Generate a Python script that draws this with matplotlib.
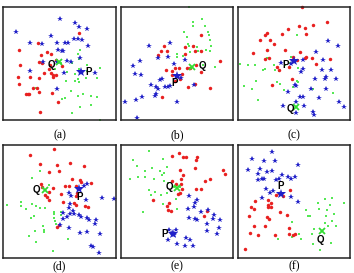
import matplotlib
matplotlib.use("Agg")
import matplotlib.pyplot as plt
import numpy as np

panel_labels = ["(a)", "(b)", "(c)", "(d)", "(e)", "(f)"]

# ---- panel (a) ----
a_blue = [(181,58),(225,70),(236,83),(262,89),(48,97),(153,109),(221,117),(234,117),(246,122),
          (90,130),(171,130),(195,130),(203,129),(265,138),(128,132),(176,150),(186,155),(190,155),
          (240,176),(131,187),(173,187),(200,185),(212,188),(92,214),(285,222),(193,222),(173,268)]
a_red = [(238,99),(116,130),(58,152),(141,157),(154,162),(123,165),(119,187),(127,190),(168,180),
         (62,196),(152,198),(133,220),(154,222),(160,228),(160,234),(170,226),(119,237),(56,234),
         (90,233),(149,210),(57,255),(100,266),(113,265),(80,284),(84,284),(88,284),(118,279),
         (157,281),(176,307),(122,337),(186,200)]
a_green = [(240,150),(235,162),(238,178),(183,190),(216,190),(260,197),(165,210),(200,218),
           (299,206),(236,208),(262,215),(225,225),(233,238),(258,236),(290,236),(198,244),
           (236,248),(225,246),(110,265),(248,284),(212,275),(234,290),(273,290),(186,298),
           (195,296),(291,292),(240,322),(272,318),(215,342),(300,362)]
a_P = (244,217); a_Q = (178,188)
a_Plab = (265,217); a_Qlab = (155,196)

# ---- panel (b) ----
b_blue = [(93,140),(155,130),(120,175),(149,172),(66,185),(44,199),(166,192),(202,182),(50,225),
          (68,228),(131,240),(126,242),(97,258),(114,263),(139,262),(150,262),(156,260),(118,270),
          (113,285),(110,290),(70,292),(52,303),(20,308),(177,308),(55,357),(227,258),(190,235)]
b_red = [(249,106),(136,140),(128,153),(146,155),(120,165),(201,143),(226,140),(230,155),(250,153),
         (200,163),(307,184),(171,205),(183,207),(144,212),(160,215),(206,206),(192,225),(186,240),
         (170,246),(215,205),(234,198),(162,228),(248,218),(210,262),(231,255),(276,266),(131,292)]
b_green = [(212,22),(224,66),(252,58),(226,78),(262,80),(271,97),(273,105),(199,96),(207,112),
           (275,120),(209,132),(214,140),(229,140),(236,141),(216,157),(241,154),(248,154),
           (263,152),(275,155),(175,162),(178,172),(196,170),(292,202),(256,197),(280,140)]
b_P = (175,230); b_Q = (221,202)
b_Plab = (168,252); b_Qlab = (252,200)

# ---- panel (c) ----
c_red = [(197,22),(275,68),(190,80),(207,84),(232,76),(157,88),(93,101),(85,106),(137,104),
         (210,104),(70,121),(102,122),(114,132),(92,150),(50,160),(146,152),(192,156),(98,174),
         (85,178),(170,172),(182,180),(208,176),(210,173),(229,176),(283,179),(123,202),
         (128,212),(160,203),(107,257),(167,240),(240,192)]
c_green = [(184,106),(93,174),(97,176),(165,172),(12,194),(36,197),(55,196),(114,198),(79,212),
           (87,208),(118,212),(147,196),(163,190),(186,206),(130,215),(122,249),(131,253),
           (60,245),(46,270),(22,260),(182,244),(186,248),(172,262),(143,272),(230,270),
           (292,282),(66,302)]
c_blue = [(278,125),(306,140),(240,156),(164,192),(200,180),(134,190),(263,180),(259,213),
          (200,210),(196,217),(272,232),(268,240),(236,238),(301,240),(176,256),(180,260),
          (225,270),(272,270),(157,277),(193,293),(200,293),(249,297),(309,308),(179,309),
          (326,323),(203,320),(140,320),(231,339),(234,347),(179,342),(285,212)]
c_P = (173,185); c_Q = (181,322)
c_Plab = (150,198); c_Qlab = (162,330)

# ---- panel (d) ----
d_red = [(164,37),(92,54),(121,82),(171,84),(210,78),(252,88),(148,105),(177,104),(217,127),
         (239,130),(274,138),(242,135),(124,141),(127,152),(161,153),(196,148),(206,148),
         (228,147),(147,165),(137,175),(182,172),(232,170),(227,178),(142,181),(148,190),
         (188,198),(221,200),(227,205),(256,208),(264,212),(178,266),(172,272)]
d_blue = [(252,147),(262,143),(208,168),(212,178),(258,190),(305,185),(343,187),(209,202),
          (208,215),(190,229),(211,232),(218,224),(236,235),(244,243),(262,245),(222,234),
          (200,243),(190,248),(289,250),(266,252),(286,262),(181,266),(206,275),(240,290),
          (262,287),(299,292),(274,328),(280,332),(296,351)]
d_green = [(122,103),(98,124),(149,144),(22,205),(65,196),(63,208),(80,217),(98,203),(110,210),
           (122,214),(136,214),(163,226),(182,226),(164,233),(184,236),(164,246),(166,254),
           (168,263),(102,240),(93,245),(130,270),(133,280),(132,286),(106,283),(87,298),
           (203,307),(108,318),(160,344)]
d_P = (237,158); d_Q = (135,160)
d_Plab = (240,180); d_Qlab = (110,160)

# ---- panel (e) ----
e_green = [(93,44),(44,70),(133,68),(57,88),(101,95),(146,91),(80,104),(124,104),(137,108),
           (130,116),(34,128),(60,120),(81,121),(106,128),(138,132),(150,140),(166,152),
           (93,159),(111,165),(128,176),(99,176),(146,170),(172,188),(134,202),(73,228),(178,218),
           (186,152)]
e_red = [(183,48),(160,57),(194,61),(204,62),(236,60),(234,70),(185,101),(232,95),(316,101),
         (322,113),(194,114),(190,128),(162,134),(277,126),(262,132),(172,143),(190,143),
         (193,157),(248,158),(233,158),(186,168),(104,190),(152,200),(146,208),(157,225),
         (150,222),(266,225),(259,238),(180,172)]
e_blue = [(213,178),(236,190),(232,200),(228,212),(211,218),(249,226),(271,222),(288,237),
          (284,248),(306,250),(212,246),(230,248),(237,250),(266,262),(302,275),(268,285),
          (296,294),(160,290),(153,282),(173,282),(166,296),(150,312),(178,322),(205,306),
          (216,312),(226,328),(200,330)]
e_P = (165,293); e_Q = (176,155)
e_Plab = (140,292); e_Qlab = (155,150)

# ---- panel (f) ----
f_blue = [(109,47),(46,66),(84,73),(118,72),(187,86),(72,96),(36,99),(94,105),(108,104),
          (66,113),(138,114),(178,120),(156,122),(166,126),(64,130),(77,127),(84,127),(120,131),
          (128,126),(112,163),(89,158),(101,169),(77,183),(164,180),(187,197)]
f_red = [(161,160),(130,168),(121,174),(140,178),(97,190),(104,200),(96,205),(97,212),(105,211),
         (55,193),(44,211),(52,218),(132,226),(154,237),(39,239),(93,242),(100,248),(85,270),
         (52,268),(160,275),(42,291),(66,295),(118,295),(160,294),(171,297),(177,292),(26,338)]
f_green = [(269,187),(290,184),(324,200),(246,201),(282,205),(210,220),(275,220),(250,218),
           (223,240),(216,240),(272,240),(296,234),(290,255),(168,257),(268,261),(278,270),
           (300,268),(234,277),(189,292),(229,294),(194,307),(126,308),(167,302),(231,323),
           (287,320),(252,340)]
f_P = (134,171); f_Q = (260,285)
f_Plab = (135,148); f_Qlab = (255,310)

panels = [
    (a_red, a_green, a_blue, a_P, a_Q, a_Plab, a_Qlab, (10,348), (362,22)),
    (b_red, b_green, b_blue, b_P, b_Q, b_Plab, b_Qlab, (8,345), (362,22)),
    (c_red, c_green, c_blue, c_P, c_Q, c_Plab, c_Qlab, (5,343), (362,22)),
    (d_red, d_green, d_blue, d_P, d_Q, d_Plab, d_Qlab, (10,348), (365,25)),
    (e_red, e_green, e_blue, e_P, e_Q, e_Plab, e_Qlab, (8,345), (365,25)),
    (f_red, f_green, f_blue, f_P, f_Q, f_Plab, f_Qlab, (5,343), (365,25)),
]

W, H = 354, 273
fig = plt.figure(figsize=(W/100, H/100), dpi=100)
col_left = [3, 121, 238]
col_w = [113, 112, 112]
row_top = [7, 145]
row_h = 113
label_y = [135, 266]

RED = "#e82020"; GREEN = "#55e855"; BLUE = "#2020c8"

for i, (red, green, blue, P, Q, Plab, Qlab, xl, yl) in enumerate(panels):
    r, c = divmod(i, 3)
    l = col_left[c]; t = row_top[r]
    ax = fig.add_axes([l/W, 1-(t+row_h)/H, col_w[c]/W, row_h/H])
    ax.set_xlim(*xl); ax.set_ylim(*yl)
    ax.set_xticks([]); ax.set_yticks([])
    for s in ax.spines.values():
        s.set_linewidth(1.1); s.set_color("#222222")
    rx, ry = zip(*red); gx, gy = zip(*green); bx, by = zip(*blue)
    ax.plot(gx, gy, ls="none", marker="s", ms=1.7, color=GREEN, mew=0, clip_on=False)
    ax.plot(rx, ry, ls="none", marker="o", ms=2.5, color=RED, mew=0, clip_on=False)
    ax.plot(bx, by, ls="none", marker="*", ms=4.0, color=BLUE, mew=0, clip_on=False)
    ax.plot([P[0]], [P[1]], ls="none", marker="*", ms=7.5, color=BLUE, mew=0, zorder=5)
    ax.plot([Q[0]], [Q[1]], ls="none", marker="x", ms=4.5, color="#33dd33", mew=1.3, zorder=5)
    ax.text(Plab[0], Plab[1], "P", fontsize=7, fontweight="bold", family="Liberation Sans",
            ha="center", va="center", zorder=6)
    ax.text(Qlab[0], Qlab[1], "Q", fontsize=7, fontweight="bold", family="Liberation Sans",
            ha="center", va="center", zorder=6)
    cx = (l + col_w[c]/2)/W
    cy = 1 - label_y[r]/H
    fig.text(cx, cy, panel_labels[i], fontsize=8.5, family="Liberation Serif",
             ha="center", va="center")

fig.savefig("out.png", dpi=100)
